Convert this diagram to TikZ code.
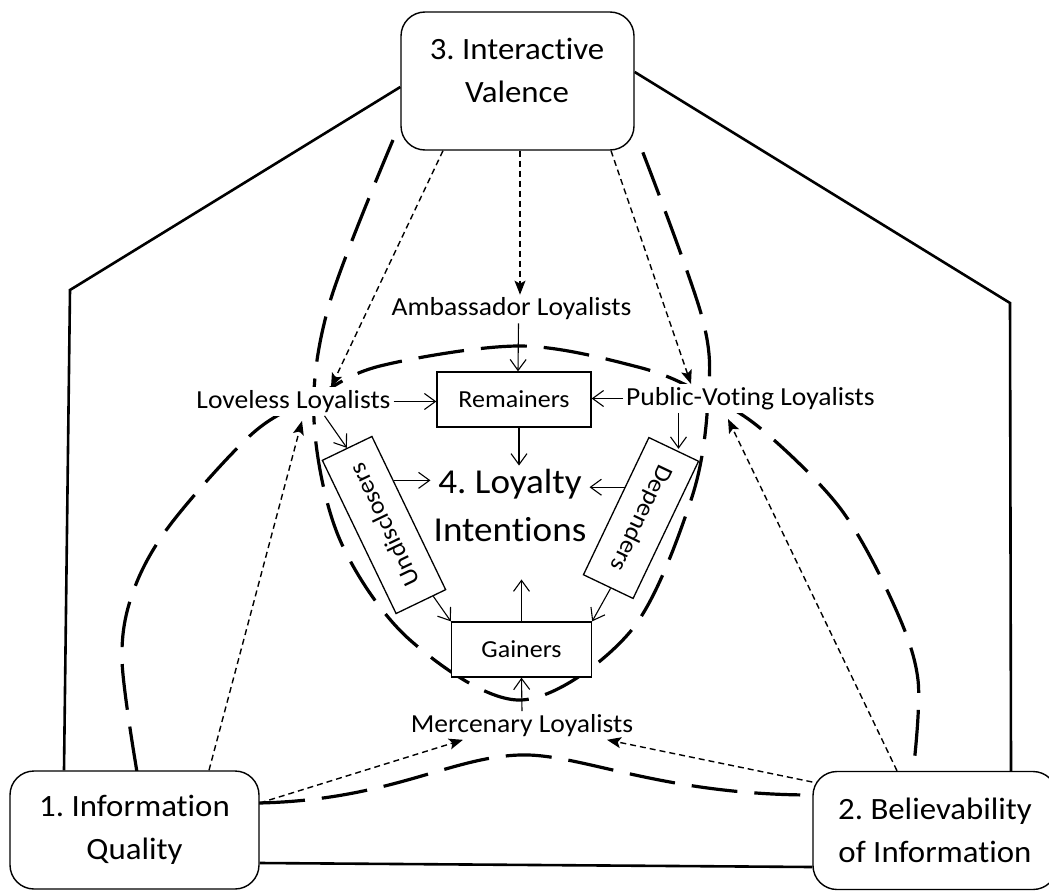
\documentclass[tikz,border=0pt]{standalone}
\usepackage{fontspec}
\setmainfont{Carlito}[FakeStretch=1.06,Ligatures=NoCommon]
\usetikzlibrary{arrows.meta,backgrounds,calc}
\frenchspacing

\tikzset{
  groupbox/.style={draw, line width=1.4pt, rounded corners=24pt, fill=white, inner sep=0pt, align=center, font=\fontsize{31}{43}\selectfont},
  grouptext/.style={inner sep=0pt, align=center, font=\fontsize{31}{43}\selectfont},
  segbox/.style={draw, line width=1.3pt, fill=white, inner sep=0pt, font=\fontsize{24.5}{30}\selectfont},
  loyal/.style={fill=white, inner sep=3pt, font=\fontsize{26}{30}\selectfont},
  core/.style={inner sep=3pt, align=center, font=\fontsize{35}{48}\selectfont},
  flow/.style={line width=1.1pt, -{Straight Barb[length=11pt,width=16pt,line width=1.1pt]}},
  cue/.style={line width=1.4pt, dash pattern=on 6pt off 4pt, -{Stealth[length=14pt,width=11pt,inset=3pt]}},
  tie/.style={line width=2.6pt},
  petal/.style={line width=3.2pt, dash pattern=on 46pt off 17pt}
}

\begin{document}
\begin{tikzpicture}[x=1pt,y=-1pt]
    \useasboundingbox (0,0) rectangle (1049,891);
    % the three factors
    \node[groupbox, minimum width=249, minimum height=118] (iq) at (134.5,830) {1. Information\\Quality};
    \node[groupbox, minimum width=244, minimum height=118] (bi) at (935,830.5) {2. Believability\\of Information};
    \node[groupbox, minimum width=233, minimum height=138] (iv) at (517.5,81) {};
    \node[grouptext] (ivtext) at (517,70.5) {3. Interactive\\Valence};
    % loyalty types
    \node[loyal] (amb) at (511.5,309) {Ambassador Loyalists};
    \node[loyal] (lov) at (293.5,401.5) {Loveless Loyalists};
    \node[loyal] (pub) at (750.5,398.5) {Public-Voting Loyalists};
    \node[loyal] (mer) at (522,725.5) {Mercenary Loyalists};
    \node[segbox, minimum width=154, minimum height=55] (rem) at (514,399.5) {Remainers};
    \node[segbox, minimum width=140, minimum height=55] (gai) at (521.5,649.5) {Gainers};
    \node[segbox, rotate=115.7, minimum width=170, minimum height=55] (und) at (384,525) {Undisclosers};
    \node[segbox, rotate=-115.5, minimum width=152, minimum height=55] (dep) at (641,518) {Dependers};
    \node[core] (li) at (510,505) {4. Loyalty\\Intentions};

    % solid arrows
    \draw[flow] ([xshift=7pt]amb.south) -- ([xshift=4pt]rem.north);
    \draw[flow] (lov.east) -- (lov.east -| rem.west);
    \draw[flow] (pub.west) -- (pub.west -| rem.east);
    \draw[flow] ([xshift=5pt]rem.south) -- ([xshift=5pt]rem.south |- li.north);
    \draw[flow] ([xshift=31pt]lov.south) -- (und.east);
    \draw[flow] ([xshift=-72pt]pub.south) -- ([xshift=-72pt]pub.south |- dep.west);
    \coordinate (u1) at ($(und.south east)!0.29!(und.south west)$);
    \coordinate (d1) at ($(dep.south west)!0.365!(dep.south east)$);
    \draw[flow] (u1) -- (u1 -| li.west);
    \draw[flow] (d1) -- (d1 -| li.east);
    \draw[flow] ($(und.south west)!0.26!(und.north west)$) -- (gai.north west);
    \draw[flow] ($(dep.south east)!0.55!(dep.north east)$) -- (gai.north east);
    \draw[flow] (gai.north) -- ([yshift=-35pt]gai.north |- li.south);
    \draw[flow] (mer.north) -- (gai.south);

    % fine dashed arrows
    \draw[cue] ([xshift=-74.5pt]iv.south) -- ([xshift=37.5pt]lov.north);
    \draw[cue] ([xshift=2.5pt]iv.south) -- ([xshift=8.5pt]amb.north);
    \draw[cue] ([xshift=93.5pt]iv.south) -- ([xshift=-59.5pt]pub.north);
    \draw[cue] ([xshift=74.5pt]iq.north) -- ([xshift=8.5pt,yshift=-5pt]lov.south);
    \draw[cue] ([xshift=-38pt]bi.north) -- ([xshift=-22.5pt,yshift=-6pt]pub.south);
    \draw[cue] ([yshift=27pt]iq.east) -- ([xshift=-59pt]mer.south);
    \draw[cue] ([yshift=48.5pt]bi.west) -- ([xshift=85pt]mer.south);

    \begin{scope}[on background layer]
        % frame
        \draw[tie] ([yshift=-6pt]iv.west) -- (70,290) -- ([xshift=-70.5pt]iq.north);
        \draw[tie] ([yshift=9pt]iv.east) -- (1010,303) -- ([xshift=76pt]bi.north);
        \draw[tie] ([yshift=-33pt]iq.east) -- ([yshift=-36.5pt]bi.west);
        % long dashed loops
        \draw[petal] plot[smooth, tension=0.55] coordinates {(393,140) (329,305) (314,420) (340,540) (410,640) (521,700) (630,632) (691,500) (708,400) (702,317) (640,145)};
        \draw[petal] plot[smooth, tension=0.55] coordinates {(137,772) (122,660) (133,592) (170,525) (253,433) (315,397) (380,366) (520,346) (638,367) (700,392) (760,428) (840,508) (893,603) (918,680) (913,773)};
        \draw[petal] (259,803) .. controls (390,800) and (450,757) .. (520,755) .. controls (580,753) and (660,795) .. (813,795);
    \end{scope}
\end{tikzpicture}
\end{document}
